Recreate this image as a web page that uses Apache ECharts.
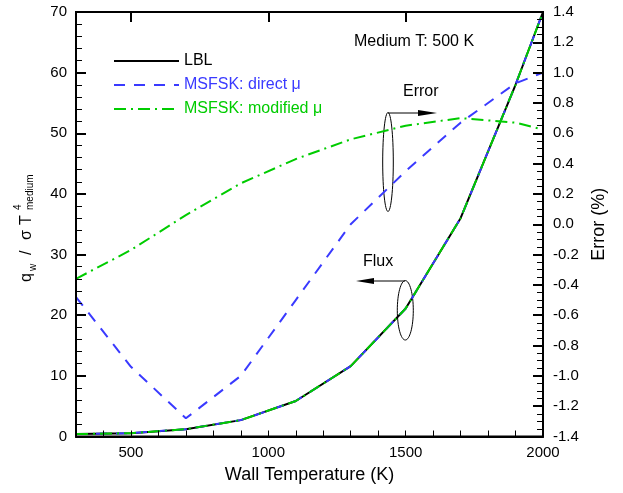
<!DOCTYPE html>
<html>
<head>
<meta charset="utf-8">
<script src="https://cdn.jsdelivr.net/npm/echarts@6/dist/echarts.min.js"></script>
<style>
    html, body { margin: 0; padding: 0; background: #fff; }
    #main { width: 623px; height: 493px; }
</style>
</head>
<body>
<div id="main"></div>
<script>
    // wall temperatures (K) where the cases were computed
    var temps = [300, 500, 700, 900, 1100, 1300, 1500, 1700, 1900, 2000];
    // wall heat flux q_w / sigma T^4 (left axis)
    var fluxLBL      = [0.4, 0.55, 1.2, 2.7, 5.85, 11.6, 21.1, 36, 58, 70];
    var fluxDirect   = [0.4, 0.55, 1.2, 2.7, 5.85, 11.6, 21.1, 36, 58, 70];
    var fluxModified = [0.4, 0.55, 1.2, 2.7, 5.85, 11.6, 21.1, 36, 58, 70];
    // error in % (right axis)
    var errDirect   = [-0.48, -0.94, -1.28, -1.0, -0.5, 0.0, 0.35, 0.67, 0.93, 1.0];
    var errModified = [-0.36, -0.17, 0.06, 0.27, 0.43, 0.56, 0.65, 0.70, 0.67, 0.625];
    // ticks on the temperature axis
    var xMajor = [500, 1000, 1500, 2000];
    var xMinor = [300, 400, 500, 600, 700, 800, 900, 1000, 1100, 1200, 1300, 1400, 1500, 1600, 1700, 1800, 1900, 2000];

    var FONT = 'Liberation Sans, Arial, sans-serif';
    var BLUE = '#3a3aff';
    var GREEN = '#00cc00';
    var NAME_LBL = 'LBL';
    var NAME_DIR = 'MSFSK: direct \u03bc';
    var NAME_MOD = 'MSFSK: modified \u03bc';

    function pairs(ys) {
        return temps.map(function (t, i) { return [t, ys[i]]; });
    }

    function axisLine() {
        return { show: true, onZero: false, lineStyle: { color: '#000', width: 2 } };
    }
    function labelStyle(extra) {
        return Object.assign({ color: '#000', fontSize: 15, fontFamily: FONT, interval: 0, hideOverlap: false }, extra);
    }
    function majorTick() {
        return { show: true, inside: true, interval: 0, length: 10, lineStyle: { color: '#000', width: 2 } };
    }
    function minorTick(n) {
        return { show: true, splitNumber: n, length: 6, lineStyle: { color: '#000', width: 1 } };
    }

    // y axis title: q_w / sigma T^4_medium, drawn as rotated text pieces
    function sub(text, x, y, size) {
        return { type: 'text', x: x, y: y, style: { text: text, font: size + 'px ' + FONT, fill: '#000', verticalAlign: 'middle' } };
    }
    var yTitle = {
        type: 'group', x: 31.7, y: 282, rotation: Math.PI / 2,
        children: [
            sub('q', 0, -5.6, 16),
            sub('w', 11, 1.5, 10),
            sub('/', 27, -5.6, 16),
            sub('\u03c3', 42, -5.6, 16),
            sub('T', 57, -5.6, 16),
            sub('4', 72, -13.5, 10),
            sub('medium', 72, -1.9, 10)
        ]
    };

    var chart = echarts.init(document.getElementById('main'));
    chart.setOption({
        animation: false,
        backgroundColor: '#fff',
        grid: { left: 76, right: 80, top: 12, bottom: 56.5, show: true, borderColor: '#000', borderWidth: 2 },
        legend: {
            orient: 'vertical',
            left: 108, top: 48,
            itemWidth: 65, itemHeight: 14, itemGap: 8,
            itemStyle: { color: 'transparent', borderColor: 'transparent', borderWidth: 0 },
            textStyle: { fontSize: 16, fontFamily: FONT },
            data: [
                { name: NAME_LBL, textStyle: { color: '#000' } },
                { name: NAME_DIR, textStyle: { color: BLUE } },
                { name: NAME_MOD, textStyle: { color: GREEN } }
            ]
        },
        xAxis: [
            {
                type: 'value', min: 300, max: 2000, z: 5,
                name: 'Wall Temperature (K)', nameLocation: 'middle', nameGap: 30,
                nameTextStyle: { color: '#000', fontSize: 18, fontFamily: FONT },
                axisLine: axisLine(),
                axisTick: { show: true, inside: true, interval: 0, length: 6, customValues: xMinor, lineStyle: { color: '#000', width: 1 } },
                axisLabel: labelStyle({ margin: 9, customValues: xMajor, formatter: function (v) { return String(v); } }),
                splitLine: { show: false }
            },
            {
                // longer ticks at the labelled temperatures
                type: 'value', min: 300, max: 2000, z: 5,
                axisLine: { show: false, onZero: false },
                axisTick: { show: true, inside: true, interval: 0, length: 10, customValues: xMajor, lineStyle: { color: '#000', width: 2 } },
                axisLabel: { show: false },
                splitLine: { show: false }
            }
        ],
        yAxis: [
            {
                type: 'value', min: 0, max: 70, interval: 10, z: 5,
                axisLine: axisLine(),
                axisTick: majorTick(),
                minorTick: minorTick(5),
                axisLabel: labelStyle({ margin: 9 }),
                splitLine: { show: false }
            },
            {
                type: 'value', min: -1.4, max: 1.4, interval: 0.2, position: 'right', z: 5,
                name: 'Error (%)', nameLocation: 'middle', nameRotate: 90, nameGap: 46,
                nameTextStyle: { color: '#000', fontSize: 18, fontFamily: FONT },
                axisLine: axisLine(),
                axisTick: majorTick(),
                minorTick: minorTick(4),
                axisLabel: labelStyle({ margin: 10, formatter: function (v) { return Math.abs(v) < 1e-9 ? '0.0' : v.toFixed(1); } }),
                splitLine: { show: false }
            }
        ],
        series: [
            {
                name: NAME_LBL, type: 'line', symbol: 'none', yAxisIndex: 0,
                data: pairs(fluxLBL),
                lineStyle: { color: '#000', width: 2 }, itemStyle: { color: '#000' }
            },
            {
                name: NAME_DIR, type: 'line', symbol: 'none', yAxisIndex: 0,
                data: pairs(fluxDirect),
                lineStyle: { color: BLUE, width: 2, type: [11, 9] }, itemStyle: { color: BLUE }
            },
            {
                name: NAME_MOD, type: 'line', symbol: 'none', yAxisIndex: 0,
                data: pairs(fluxModified),
                lineStyle: { color: GREEN, width: 2, type: [12, 5, 2, 5] }, itemStyle: { color: GREEN }
            },
            {
                name: NAME_DIR, type: 'line', symbol: 'none', yAxisIndex: 1,
                data: pairs(errDirect),
                lineStyle: { color: BLUE, width: 2, type: [11, 9] }, itemStyle: { color: BLUE }
            },
            {
                name: NAME_MOD, type: 'line', symbol: 'none', yAxisIndex: 1,
                data: pairs(errModified),
                lineStyle: { color: GREEN, width: 2, type: [12, 5, 2, 5] }, itemStyle: { color: GREEN }
            }
        ],
        graphic: [
            yTitle,
            { type: 'text', x: 354, y: 42, style: { text: 'Medium T: 500 K', font: '16px ' + FONT, fill: '#000', verticalAlign: 'middle' } },
            // "Error" marker: ellipse round the error curves, arrow to the right axis
            { type: 'ellipse', shape: { cx: 388, cy: 162, rx: 5.3, ry: 49.5 }, style: { fill: 'none', stroke: '#000', lineWidth: 1 } },
            { type: 'line', shape: { x1: 388, y1: 113, x2: 420, y2: 113 }, style: { stroke: '#000', lineWidth: 1 } },
            { type: 'polygon', shape: { points: [[418, 110], [437, 113], [418, 116]] }, style: { fill: '#000' } },
            { type: 'text', x: 403, y: 92, style: { text: 'Error', font: '16px ' + FONT, fill: '#000', verticalAlign: 'middle' } },
            // "Flux" marker: ellipse round the flux curves, arrow to the left axis
            { type: 'ellipse', shape: { cx: 405.3, cy: 310.3, rx: 8, ry: 29.7 }, style: { fill: 'none', stroke: '#000', lineWidth: 1 } },
            { type: 'line', shape: { x1: 405, y1: 281, x2: 372, y2: 281 }, style: { stroke: '#000', lineWidth: 1 } },
            { type: 'polygon', shape: { points: [[374, 278], [356, 281], [374, 284]] }, style: { fill: '#000' } },
            { type: 'text', x: 363, y: 262, style: { text: 'Flux', font: '16px ' + FONT, fill: '#000', verticalAlign: 'middle' } }
        ]
    });
</script>
</body>
</html>
